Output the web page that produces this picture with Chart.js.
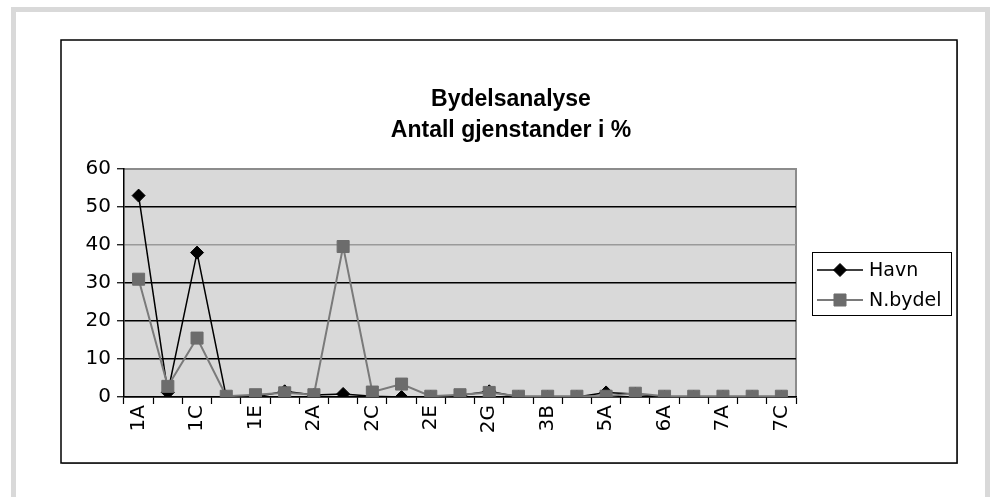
<!DOCTYPE html>
<html>
<head>
<meta charset="utf-8">
<script src="https://cdn.jsdelivr.net/npm/chart.js@4"></script>
<style>
  html, body { margin: 0; padding: 0; background: #fff; }
  #wrap { width: 990px; height: 497px; position: relative; }
</style>
</head>
<body>
<div id="wrap"><canvas id="chart" width="990" height="497"></canvas></div>
<script>
// categories (every other one is labelled on the axis)
const categories = ['1A','1B','1C','1D','1E','1F','2A','2B','2C','2D','2E','2F','2G',
                    '3A','3B','4A','5A','5B','6A','6B','7A','7B','7C'];
const havn   = [53, 1.2, 38, 0, 0, 1.5, 0.5, 0.8, 0.2, 0, 0, 0.4, 1.5,
                0, 0, 0, 1.2, 0.8, 0, 0, 0, 0, 0];
const nBydel = [31, 2.8, 15.5, 0.2, 0.6, 1.1, 0.6, 39.6, 1.3, 3.4, 0.2, 0.6, 1.2,
                0.2, 0.2, 0.2, 0.2, 1.0, 0.2, 0.2, 0.2, 0.2, 0.2];
const yTicks = [0, 10, 20, 30, 40, 50, 60];
const titleLines = ['Bydelsanalyse', 'Antall gjenstander i %'];

const FONT = '"DejaVu Sans", Verdana, sans-serif';

// frame, chart box, plot background, title and legend
const decor = {
  id: 'decor',
  beforeDraw(chart) {
    const ctx = chart.ctx;
    const a = chart.chartArea;
    ctx.save();
    // outer light frame
    ctx.fillStyle = '#d9d9d9';
    ctx.fillRect(11, 7, 979, 5);
    ctx.fillRect(11, 7, 5, 490);
    ctx.fillRect(985, 7, 5, 490);
    // chart box with soft shadow
    ctx.fillStyle = '#9a9a9a';
    ctx.fillRect(62, 41, 896, 423);
    ctx.fillStyle = '#fff';
    ctx.fillRect(61, 40, 896, 423);
    ctx.strokeStyle = '#000';
    ctx.lineWidth = 1.5;
    ctx.strokeRect(61, 40, 896, 423);
    // plot area
    ctx.fillStyle = '#d9d9d9';
    ctx.fillRect(a.left, a.top, a.right - a.left, a.bottom - a.top);
    ctx.strokeStyle = '#8c8c8c';
    ctx.lineWidth = 2;
    ctx.beginPath();
    ctx.moveTo(a.left, a.top);
    ctx.lineTo(a.right, a.top);
    ctx.lineTo(a.right, a.bottom);
    ctx.stroke();
    // title
    ctx.fillStyle = '#000';
    ctx.textAlign = 'center';
    ctx.textBaseline = 'middle';
    ctx.font = '600 23px "Liberation Sans", Arial, sans-serif';
    ctx.fillText(titleLines[0], 511, 100);
    ctx.fillText(titleLines[1], 511, 131);
    ctx.restore();
  },
  afterDraw(chart) {
    const ctx = chart.ctx;
    ctx.save();
    ctx.strokeStyle = '#000';
    ctx.lineWidth = 1;
    ctx.fillStyle = '#fff';
    ctx.fillRect(812, 252, 139, 63);
    ctx.strokeRect(812.5, 252.5, 139, 63);
    const rows = [270, 300];
    chart.data.datasets.forEach((ds, i) => {
      const y = rows[i];
      ctx.strokeStyle = ds.borderColor;
      ctx.lineWidth = ds.borderWidth;
      ctx.beginPath();
      ctx.moveTo(817, y);
      ctx.lineTo(863, y);
      ctx.stroke();
      ctx.fillStyle = ds.pointBackgroundColor;
      ctx.strokeStyle = ds.pointBorderColor;
      ctx.lineWidth = 1;
      Chart.helpers.drawPoint(ctx, {
        pointStyle: ds.pointStyle, rotation: 0, borderWidth: 1, radius: ds.pointRadius
      }, 840, y);
      ctx.fillStyle = '#000';
      ctx.font = '19px ' + FONT;
      ctx.textAlign = 'left';
      ctx.textBaseline = 'middle';
      ctx.fillText(ds.label, 869, y + 1);
    });
    ctx.restore();
  }
};

new Chart(document.getElementById('chart'), {
  type: 'line',
  data: {
    labels: categories,
    datasets: [
      {
        label: 'Havn',
        data: havn,
        borderColor: '#000',
        borderWidth: 1.5,
        pointStyle: 'rectRot',
        pointRadius: 6.5,
        pointBackgroundColor: '#000',
        pointBorderColor: '#000',
        pointBorderWidth: 1,
        tension: 0,
        order: 1
      },
      {
        label: 'N.bydel',
        data: nBydel,
        borderColor: '#7a7a7a',
        borderWidth: 2,
        pointStyle: 'rect',
        pointRadius: 8.5,
        pointBackgroundColor: '#6c6c6c',
        pointBorderColor: '#6c6c6c',
        pointBorderWidth: 1,
        tension: 0,
        order: 0
      }
    ]
  },
  options: {
    responsive: false,
    animation: false,
    layout: { padding: { left: 61, top: 169, right: 194, bottom: 30 } },
    plugins: {
      legend: { display: false },
      title: { display: false },
      tooltip: { enabled: false }
    },
    scales: {
      x: {
        offset: true,
        grid: {
          offset: true,
          drawOnChartArea: false,
          tickLength: 7,
          tickColor: '#000',
          tickWidth: 1.2
        },
        border: { color: '#000', width: 1.5 },
        ticks: {
          autoSkip: false,
          minRotation: 90,
          maxRotation: 90,
          padding: 1,
          color: '#000',
          font: { family: FONT, size: 20 },
          callback: (v, i) => (i % 2 === 0 ? categories[i] : '')
        },
        afterFit: s => { s.height = 70; }
      },
      y: {
        min: 0,
        max: 60,
        afterBuildTicks: s => { s.ticks = yTicks.map(v => ({ value: v })); },
        grid: {
          color: c => (c.tick && c.tick.value === 40 ? '#9a9a9a' : (c.tick && c.tick.value === 60 ? 'rgba(0,0,0,0)' : '#000')),
          lineWidth: 1.5,
          tickLength: 7,
          tickColor: '#000',
          tickWidth: 1.2
        },
        border: { color: '#000', width: 1.5 },
        ticks: {
          padding: 6,
          color: '#000',
          font: { family: FONT, size: 20 }
        },
        afterFit: s => { s.width = 63; }
      }
    }
  },
  plugins: [decor]
});
</script>
</body>
</html>
